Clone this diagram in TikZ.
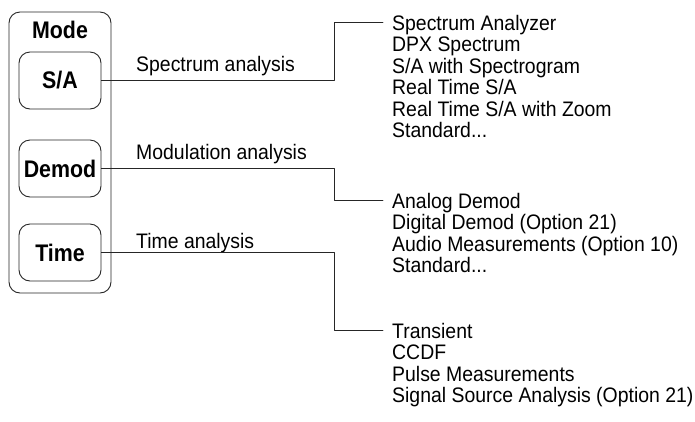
\documentclass[tikz,border=0pt]{standalone}
\usepackage{fontspec}
\setmainfont{Liberation Sans}[FakeStretch=0.925, BoldFeatures={FakeStretch=0.89}]
\usetikzlibrary{positioning}

\begin{document}
\begin{tikzpicture}[x=1pt, y=-1pt, line cap=round, line join=round,
		frame/.style={draw=black!85, line width=0.9pt, rounded corners=11pt},
		modekey/.style={frame, minimum width=82pt, minimum height=57pt, inner sep=0pt, font=\fontsize{24}{26}\selectfont\bfseries},
		wire/.style={draw=black!85, line width=0.9pt},
		group/.style={anchor=base west, inner sep=0pt, font=\fontsize{21}{21.5}\selectfont},
		entry/.style={anchor=base west, inner sep=0pt, text height=14.5pt, text depth=0pt, font=\fontsize{21}{21.5}\selectfont}]
		\useasboundingbox (0,0) rectangle (695,421);
		
		% mode panel with its keys
		\node[frame, minimum width=102pt, minimum height=281pt] (panel) at (60,152.5) {};
		\node[anchor=base, inner sep=0pt, font=\fontsize{24}{26}\selectfont\bfseries] (mode) at (60,38) {Mode};
		\node[modekey] (keySA) at (60,80.5) {S/A};
		\node[modekey] (keyDemod) at (60,168.5) {Demod};
		\node[modekey] (keyTime) at (60,252.5) {Time};
		
		\node[group] (grpSA) at (136,71) {Spectrum analysis};
		\node[group] (grpDemod) at (136,159) {Modulation analysis};
		\node[group] (grpTime) at (136,248) {Time analysis};
		
		% measurement lists
		\foreach \txt [count=\i] in {Spectrum Analyzer, DPX Spectrum, S/A with Spectrogram, Real Time S/A, Real Time S/A with Zoom, {Standard.{}.{}.}}
			\node[entry] (spec\i) at (392,{30+21.5*(\i-1)}) {\txt};
		\foreach \txt [count=\i] in {Analog Demod, {Digital Demod (Option 21)}, {Audio Measurements (Option 10)}, {Standard.{}.{}.}}
			\node[entry] (dem\i) at (392,{208+21.5*(\i-1)}) {\txt};
		\foreach \txt [count=\i] in {Transient, CCDF, Pulse Measurements, {Signal Source Analysis (Option 21)}}
			\node[entry] (tim\i) at (392,{338+21.5*(\i-1)}) {\txt};
		
		\coordinate (bend) at (334,0);
		\draw[wire] (keySA.east) -- (keySA.east -| bend) |- ([xshift=-9pt]spec1.west);
		\draw[wire] (keyDemod.east) -- (keyDemod.east -| bend) |- ([xshift=-9pt]dem1.west);
		\draw[wire] (keyTime.east) -- (keyTime.east -| bend) |- ([xshift=-9pt]tim1.west);
	\end{tikzpicture}
\end{document}
